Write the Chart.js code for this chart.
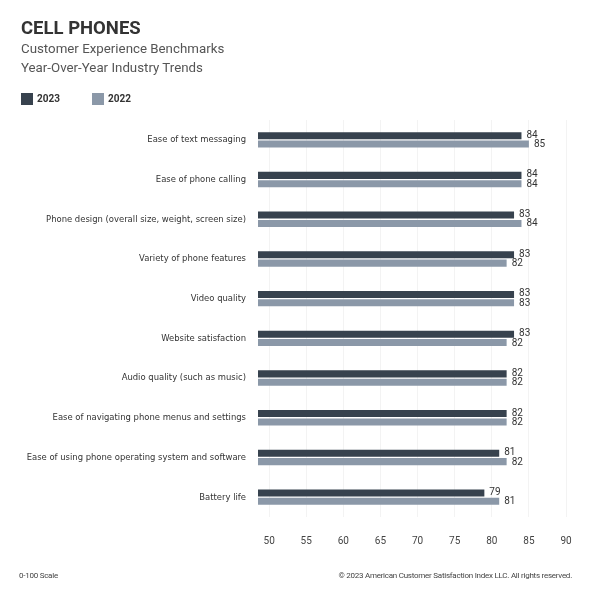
<!DOCTYPE html>
<html>
<head>
<meta charset="utf-8">
<script src="https://cdn.jsdelivr.net/npm/chart.js@4"></script>
<style>
  body { margin: 0; background: #fff; font-family: Roboto, sans-serif; }
  #wrap { position: relative; width: 591px; height: 600px; }
  canvas { position: absolute; left: 0; top: 0; }
  .abs { position: absolute; white-space: nowrap; }
  #title { left: 21px; top: 17px; font-size: 18.5px; font-weight: bold; color: #333; }
  .sub { left: 21px; font-size: 13.3px; color: #555; }
  .box { width: 12px; height: 12px; top: 93px; }
  .leg { top: 93px; font-size: 10px; font-weight: bold; color: #333; line-height: 12px; }
  .foot { top: 571px; font-size: 8px; color: #444; letter-spacing: -0.25px; }
</style>
</head>
<body>
<div id="wrap">
  <canvas id="chart" width="591" height="600"></canvas>
  <div id="title" class="abs">CELL PHONES</div>
  <div class="abs sub" style="top:41px">Customer Experience Benchmarks</div>
  <div class="abs sub" style="top:60px">Year-Over-Year Industry Trends</div>
  <div id="legend"></div>
  <div class="abs foot" style="left:19px">0-100 Scale</div>
  <div class="abs foot" style="right:19px">© 2023 American Customer Satisfaction Index LLC. All rights reserved.</div>
</div>
<script>
const categories = [
    "Ease of text messaging",
    "Ease of phone calling",
    "Phone design (overall size, weight, screen size)",
    "Variety of phone features",
    "Video quality",
    "Website satisfaction",
    "Audio quality (such as music)",
    "Ease of navigating phone menus and settings",
    "Ease of using phone operating system and software",
    "Battery life"
];
const years = ['2023', '2022'];
const scores2023 = [84, 84, 83, 83, 83, 83, 82, 82, 81, 79];
const scores2022 = [85, 84, 84, 82, 83, 82, 82, 82, 82, 81];
const xTicks = [50, 55, 60, 65, 70, 75, 80, 85, 90];
const colors = ['#37424e', '#8b98a8'];

const valueLabels = {
    id: 'valueLabels',
    afterDatasetsDraw(chart) {
        const ctx = chart.ctx;
        ctx.save();
        ctx.font = '10px Roboto, sans-serif';
        ctx.fillStyle = '#333';
        ctx.textAlign = 'left';
        ctx.textBaseline = 'middle';
        chart.data.datasets.forEach((ds, i) => {
            chart.getDatasetMeta(i).data.forEach((bar, j) => {
                ctx.fillText(ds.data[j], bar.x + 5, bar.y + (i === 0 ? -0.5 : 0.5));
            });
        });
        ctx.restore();
    }
};

// legend drawn as html so it can sit flush with the title
const legendLeft = [21, 92];
document.getElementById('legend').innerHTML = years.map((y, i) =>
    `<div class="abs box" style="left:${legendLeft[i]}px;background:${colors[i]}"></div>` +
    `<div class="abs leg" style="left:${legendLeft[i] + 16}px">${y}</div>`
).join('');

new Chart(document.getElementById('chart'), {
    type: 'bar',
    data: {
        labels: categories,
        datasets: [{
            label: years[0],
            data: scores2023,
            backgroundColor: colors[0],
            categoryPercentage: 0.42,
            barPercentage: 0.85
        }, {
            label: years[1],
            data: scores2022,
            backgroundColor: colors[1],
            categoryPercentage: 0.42,
            barPercentage: 0.85
        }]
    },
    options: {
        indexAxis: 'y',
        responsive: false,
        animation: false,
        layout: { padding: { left: 21, right: 25, top: 120, bottom: 53 } },
        scales: {
            x: {
                min: 48.5,
                max: 90,
                afterBuildTicks: axis => { axis.ticks = xTicks.map(v => ({ value: v })); },
                afterFit: scale => { scale.height = 30; },
                grid: { color: '#f3f3f3', drawTicks: false },
                border: { display: false },
                ticks: { padding: 18, color: '#444', font: { size: 10, family: 'Roboto' } }
            },
            y: {
                grid: { display: false, drawTicks: false },
                border: { display: false },
                afterFit: scale => { scale.width = 237; },
                ticks: { padding: 12, color: '#333', font: { size: 9.4, family: "'DejaVu Sans Condensed', Roboto" } }
            }
        },
        plugins: {
            legend: { display: false },
            tooltip: { enabled: false }
        }
    },
    plugins: [valueLabels]
});
</script>
</body>
</html>
